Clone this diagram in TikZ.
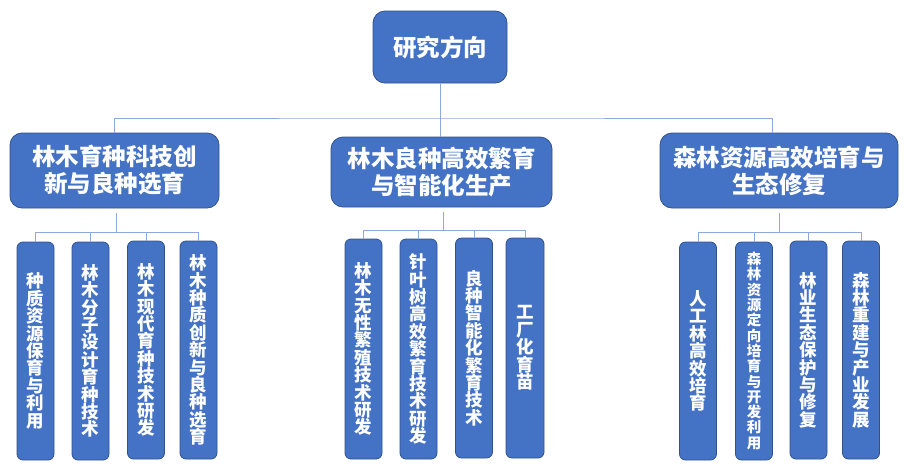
\documentclass[tikz,border=0pt]{standalone}
\usepackage{fontspec}
\setmainfont{Noto Sans CJK SC}
\definecolor{boxblue}{HTML}{4472C4}
\definecolor{boxedge}{HTML}{2F528F}
\definecolor{linkblue}{HTML}{8EA9DB}
\tikzset{
  headbox/.style={draw=boxedge, line width=0.8pt, fill=boxblue, rounded corners=12pt,
    text=white, font=\fontsize{23.5}{27}\selectfont\bfseries, align=center, inner sep=0pt},
  leafbox/.style={draw=boxedge, line width=0.8pt, fill=boxblue, rounded corners=6pt,
    text=white, font=\fontsize{17.5}{17.4}\selectfont\bfseries, align=center, inner sep=0pt,
    minimum width=37pt, minimum height=218pt},
  link/.style={draw=linkblue, line width=1pt}
}
\begin{document}
\begin{tikzpicture}[x=1pt,y=-1pt]
\useasboundingbox (0,0) rectangle (907,469);

\node[headbox, minimum width=134pt, minimum height=72pt] (root) at (440,47) {研究方向};

\node[headbox, minimum width=209pt, minimum height=75pt] (b1) at (114.5,170.5) {林木育种科技创\\新与良种选育};
\node[headbox, minimum width=221pt, minimum height=70pt] (b2) at (441.5,172) {林木良种高效繁育\\与智能化生产};
\node[headbox, minimum width=238pt, minimum height=75pt] (b3) at (779,170.5) {森林资源高效培育与\\生态修复};

% first level links
\coordinate (bus) at (440,118);
\draw[link] (root.south) -- (root.south |- b2.north);
\draw[link] (b1.north) |- (bus) -| ([xshift=-7pt]b3.north);

% leaves of b1
\node[leafbox] (l11) at (35.5,351) {种\\质\\资\\源\\保\\育\\与\\利\\用};
\node[leafbox] (l12) at (90.5,351) {林\\木\\分\\子\\设\\计\\育\\种\\技\\术};
\node[leafbox] (l13) at (146,350) {林\\木\\现\\代\\育\\种\\技\\术\\研\\发};
\node[leafbox] (l14) at (198.5,350) {林\\木\\种\\质\\创\\新\\与\\良\\种\\选\\育};

% leaves of b2
\node[leafbox, minimum height=220pt] (l21) at (363.5,349) {林\\木\\无\\性\\繁\\殖\\技\\术\\研\\发};
\node[leafbox, minimum height=220pt] (l22) at (418.5,349) {针\\叶\\树\\高\\效\\繁\\育\\技\\术\\研\\发};
\node[leafbox, minimum height=220pt] (l23) at (474,348) {良\\种\\智\\能\\化\\繁\\育\\技\\术};
\node[leafbox, minimum height=220pt, minimum width=38pt] (l24) at (525,348) {工\\厂\\化\\育\\苗};

% leaves of b3
\node[leafbox] (l31) at (698,351) {人\\工\\林\\高\\效\\培\\育};
\node[leafbox, font=\fontsize{14.5}{15.3}\selectfont\bfseries] (l32) at (754,351) {森\\林\\资\\源\\定\\向\\培\\育\\与\\开\\发\\利\\用};
\node[leafbox] (l33) at (808.5,350) {林\\业\\生\\态\\保\\护\\与\\修\\复};
\node[leafbox] (l34) at (861,350) {森\\林\\重\\建\\与\\产\\业\\发\\展};

% second level links
\coordinate (bus1) at (116,232.5);
\coordinate (bus2) at (443,230);
\coordinate (bus3) at (779,232);
\draw[link] ([xshift=1.5pt,yshift=-5pt]b1.south) -- (bus1);
\draw[link] ([xshift=1.5pt,yshift=-5pt]b2.south) -- (bus2);
\draw[link] ([yshift=-5pt]b3.south) -- (bus3);
\foreach \i in {1,...,4} {
  \draw[link] (l1\i.north) |- (bus1);
  \draw[link] (l2\i.north) |- (bus2);
  \draw[link] (l3\i.north) |- (bus3);
}
\end{tikzpicture}
\end{document}
